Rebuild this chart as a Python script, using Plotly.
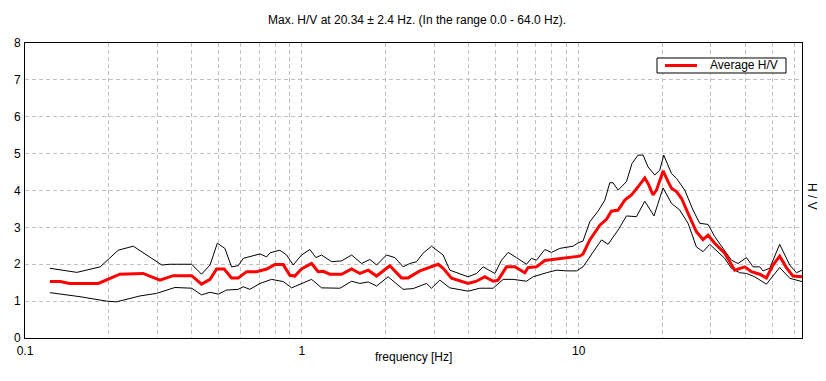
import plotly.graph_objects as go

# ---- data ----
avg_freq = [
    0.123, 0.134, 0.145, 0.184, 0.203, 0.220, 0.267, 0.307, 0.343, 0.400,
    0.434, 0.466, 0.492, 0.524, 0.557, 0.589, 0.632, 0.686, 0.746, 0.799,
    0.856, 0.905, 0.943, 0.997, 1.084, 1.145, 1.194, 1.262, 1.391, 1.512,
    1.620, 1.736, 1.861, 2.078, 2.290, 2.420, 2.667, 2.979, 3.105, 3.237,
    3.471, 3.985, 4.272, 4.579, 4.906, 5.110, 5.483, 5.875, 6.385, 6.561,
    7.036, 7.540, 8.310, 9.030, 9.540, 10.08, 10.36, 10.96, 11.91, 12.59,
    13.12, 13.87, 14.66, 15.50, 16.37, 17.31, 17.79, 18.54, 19.08, 20.16,
    21.01, 21.62, 22.53, 23.49, 24.81, 26.60, 28.10, 29.30, 30.97, 33.66,
    36.58, 39.76, 42.03, 45.02, 47.60, 50.28, 53.16, 56.22, 59.38, 64.00]
avg_hv = [
    1.53, 1.53, 1.48, 1.48, 1.62, 1.73, 1.75, 1.57, 1.69, 1.69,
    1.46, 1.59, 1.87, 1.87, 1.63, 1.63, 1.80, 1.80, 1.87, 1.99,
    1.99, 1.70, 1.68, 1.87, 2.02, 1.80, 1.81, 1.73, 1.73, 1.87,
    1.75, 1.84, 1.68, 1.96, 1.63, 1.63, 1.82, 1.96, 2.00, 1.89,
    1.62, 1.48, 1.54, 1.66, 1.54, 1.57, 1.93, 1.93, 1.77, 1.91,
    1.93, 2.10, 2.14, 2.16, 2.20, 2.22, 2.28, 2.66, 3.06, 3.22,
    3.44, 3.47, 3.74, 3.88, 4.10, 4.34, 4.19, 3.88, 4.01, 4.53,
    4.24, 4.06, 3.97, 3.79, 3.38, 2.88, 2.67, 2.79, 2.57, 2.30,
    1.84, 1.93, 1.80, 1.73, 1.63, 1.98, 2.22, 1.91, 1.68, 1.66]

upper_freq = [
    0.123, 0.154, 0.187, 0.217, 0.246, 0.312, 0.334, 0.400, 0.434, 0.466,
    0.495, 0.527, 0.557, 0.589, 0.614, 0.706, 0.746, 0.767, 0.833, 0.881,
    0.930, 0.997, 1.069, 1.123, 1.178, 1.280, 1.391, 1.512, 1.643, 1.760,
    1.861, 2.022, 2.167, 2.321, 2.454, 2.595, 2.741, 2.939, 3.237, 3.421,
    3.985, 4.272, 4.513, 4.977, 5.261, 5.558, 5.958, 6.474, 6.748, 7.036,
    7.540, 7.970, 8.540, 9.540, 9.940, 10.36, 10.96, 11.74, 12.42, 12.94,
    13.30, 13.87, 14.87, 15.56, 16.37, 17.07, 17.79, 18.81, 19.61, 20.27,
    21.62, 22.53, 24.14, 25.86, 27.34, 29.30, 30.97, 35.59, 37.59, 40.32,
    42.59, 45.02, 46.29, 48.93, 53.16, 57.78, 61.09, 64.00]
upper_hv = [
    1.89, 1.78, 1.93, 2.38, 2.49, 1.98, 2.00, 2.00, 1.73, 1.98,
    2.57, 2.43, 1.93, 1.96, 2.16, 2.28, 2.20, 2.31, 2.38, 2.25,
    1.98, 2.25, 2.40, 2.18, 2.25, 2.07, 2.09, 2.25, 2.02, 2.13,
    1.98, 2.25, 2.18, 1.93, 2.02, 2.07, 2.30, 2.49, 2.25, 1.84,
    1.66, 1.75, 1.93, 1.75, 2.11, 2.32, 2.18, 2.00, 2.16, 2.11,
    2.40, 2.32, 2.43, 2.49, 2.58, 2.63, 3.15, 3.44, 3.74, 4.21,
    4.21, 4.01, 4.24, 4.73, 4.96, 4.96, 4.64, 4.42, 4.55, 4.96,
    4.46, 4.33, 4.01, 3.47, 3.11, 3.08, 2.75, 2.11, 2.02, 2.18,
    1.93, 1.93, 1.82, 1.89, 2.54, 1.98, 1.77, 1.84]

lower_freq = [
    0.123, 0.158, 0.197, 0.214, 0.260, 0.299, 0.348, 0.400, 0.434, 0.466,
    0.499, 0.535, 0.589, 0.614, 0.649, 0.706, 0.777, 0.856, 0.918, 1.084,
    1.178, 1.372, 1.512, 1.620, 1.736, 1.861, 2.049, 2.321, 2.522, 2.819,
    2.939, 3.149, 3.421, 3.985, 4.391, 4.906, 5.332, 5.791, 6.474, 6.839,
    7.645, 8.310, 9.030, 9.810, 10.36, 11.26, 12.08, 12.76, 13.87, 14.87,
    16.16, 17.31, 18.04, 18.70, 19.33, 20.16, 21.62, 23.15, 24.81, 26.60,
    28.10, 29.72, 33.66, 35.59, 38.13, 40.32, 43.19, 47.60, 53.16, 57.78,
    64.00]
lower_hv = [
    1.23, 1.12, 1.00, 0.98, 1.14, 1.21, 1.37, 1.35, 1.17, 1.24,
    1.19, 1.30, 1.32, 1.39, 1.32, 1.48, 1.59, 1.53, 1.36, 1.59,
    1.36, 1.35, 1.54, 1.48, 1.52, 1.41, 1.66, 1.32, 1.34, 1.48,
    1.35, 1.57, 1.36, 1.27, 1.35, 1.35, 1.59, 1.59, 1.54, 1.66,
    1.77, 1.84, 1.82, 1.82, 1.93, 2.34, 2.66, 2.54, 2.93, 3.31,
    3.29, 3.71, 3.51, 3.31, 3.65, 4.07, 3.65, 3.47, 3.11, 2.47,
    2.34, 2.54, 2.16, 1.89, 1.77, 1.75, 1.66, 1.46, 1.91, 1.62,
    1.53]

x_grid_vals = [0.1, 0.2, 0.3, 0.4, 0.5, 0.6, 0.7, 0.8, 0.9,
               1, 2, 3, 4, 5, 6, 7, 8, 9,
               10, 20, 30, 40, 50, 60]
x_grid_text = ["0.1", "", "", "", "", "", "", "", "",
               "1", "", "", "", "", "", "", "", "",
               "10", "", "", "", "", ""]
y_ticks = [0, 1, 2, 3, 4, 5, 6, 7, 8]

title_text = "Max. H/V at 20.34 \u00b1 2.4 Hz. (In the range 0.0 - 64.0 Hz)."
x_title = "frequency [Hz]"
y_title = "H / V"
legend_label = "Average H/V"
FONT = "Liberation Sans, Arial, sans-serif"

# The page body has an 8px default margin, so the figure is sized 8px smaller
# and its margins are reduced to keep the plot area where the reference has it.
FIG_W, FIG_H = 818, 373
M_L, M_R, M_T, M_B = 17, 24, 35, 43

fig = go.Figure()
fig.add_trace(go.Scatter(x=upper_freq, y=upper_hv, mode="lines",
                         line=dict(color="black", width=1), showlegend=False,
                         hoverinfo="skip"))
fig.add_trace(go.Scatter(x=lower_freq, y=lower_hv, mode="lines",
                         line=dict(color="black", width=1), showlegend=False,
                         hoverinfo="skip"))
fig.add_trace(go.Scatter(x=avg_freq, y=avg_hv, mode="lines", name=legend_label,
                         line=dict(color="#ff0000", width=3), showlegend=False))

# legend box drawn in paper coordinates (top-right of the plot area)
lg_x0, lg_x1, lg_y0, lg_y1 = 0.8134, 0.9794, 0.8983, 0.9492
lg_ymid = (lg_y0 + lg_y1) / 2
shapes = [
    dict(type="rect", xref="paper", yref="paper", x0=lg_x0, x1=lg_x1,
         y0=lg_y0, y1=lg_y1, line=dict(color="black", width=1),
         fillcolor="white", layer="above"),
    dict(type="line", xref="paper", yref="paper", x0=0.8237, x1=0.8649,
         y0=lg_ymid, y1=lg_ymid, line=dict(color="#ff0000", width=3),
         layer="above"),
]

fig.update_layout(
    width=FIG_W, height=FIG_H,
    margin=dict(l=M_L, r=M_R, t=M_T, b=M_B, autoexpand=False),
    paper_bgcolor="white", plot_bgcolor="white",
    font=dict(family=FONT, size=12, color="black"),
    title=dict(text=title_text, x=0.5, xanchor="center",
               y=1 - 12 / FIG_H, yanchor="middle",
               font=dict(family=FONT, size=12, color="black")),
    showlegend=False,
    xaxis=dict(type="log", range=[-1, 1.80618], automargin=False,
               tickmode="array", tickvals=x_grid_vals, ticktext=x_grid_text,
               showgrid=True, gridcolor="#c0c0c0", griddash="4px,3px", gridwidth=1,
               showline=True, linecolor="black", linewidth=1, mirror=True,
               ticks="", zeroline=False, ticklabelstandoff=2),
    yaxis=dict(range=[0, 8], tickmode="array", tickvals=y_ticks, automargin=False,
               showgrid=True, gridcolor="#c0c0c0", griddash="4px,3px", gridwidth=1,
               showline=True, linecolor="black", linewidth=1, mirror=True,
               ticks="", zeroline=False, ticklabelstandoff=1),
    shapes=shapes,
    annotations=[
        dict(text=x_title, xref="paper", yref="paper",
             x=0.5, y=-0.0644, xanchor="center", yanchor="middle",
             showarrow=False, font=dict(family=FONT, size=12, color="black")),
        dict(text=y_title, xref="paper", yref="paper",
             x=1.0, y=0.481, xanchor="center", yanchor="middle",
             xshift=10, textangle=90, showarrow=False,
             font=dict(family=FONT, size=12, color="black")),
        dict(text=legend_label, xref="paper", yref="paper",
             x=0.879, y=lg_ymid, xanchor="left", yanchor="middle",
             showarrow=False, font=dict(family=FONT, size=12, color="black")),
    ],
)

fig.write_html("out.html")
